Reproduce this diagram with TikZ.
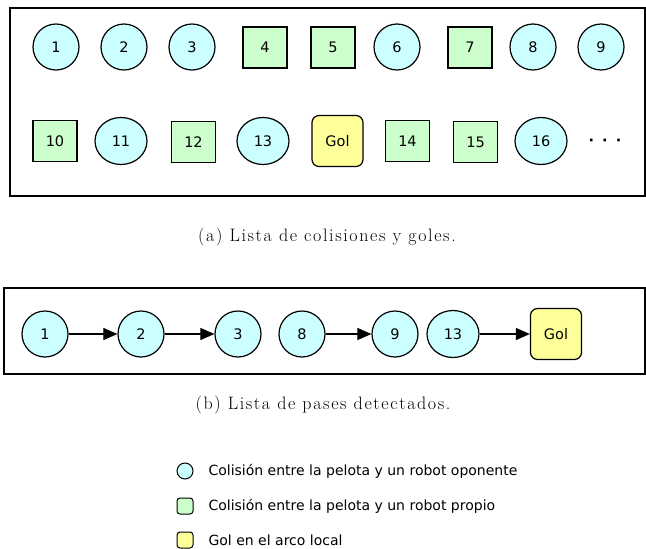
\documentclass[tikz,border=0pt]{standalone}
\usepackage{fontspec}
\usepackage{tikz}
\usetikzlibrary{arrows.meta,shapes.geometric}

\newfontfamily\nodefont{DejaVu Sans}
\newfontfamily\piefont[LetterSpace=9]{Latin Modern Roman}
\definecolor{celeste}{HTML}{CCFFFF}
\definecolor{verde}{HTML}{CCFFCC}
\definecolor{amarillo}{HTML}{FFFF99}

\begin{document}
\begin{tikzpicture}[x=1pt,y=-1pt,
  every node/.style={font=\nodefont\fontsize{14.5}{17}\selectfont},
  opo/.style={draw,circle,fill=celeste,line width=1.2pt,minimum size=46pt,inner sep=0pt},
  opoe/.style={draw,ellipse,fill=celeste,line width=1.2pt,minimum width=52pt,minimum height=47pt,inner sep=0pt},
  pro/.style={draw,rectangle,fill=verde,line width=1.2pt,minimum width=44pt,minimum height=41pt,inner sep=0pt},
  gol/.style={draw,rectangle,rounded corners=7pt,fill=amarillo,line width=1.2pt,minimum size=51pt,inner sep=0pt},
  caja/.style={draw,line width=1.4pt},
  pie/.style={font=\piefont\fontsize{18}{21}\selectfont},
  ref/.style={font=\nodefont\fontsize{14}{16}\selectfont,anchor=west},
  pase/.style={-{Triangle[length=14pt,width=12pt]},line width=1.1pt}]
\useasboundingbox (0,0) rectangle (646,549);

% (a) colisiones y goles
\draw[caja] (10,8) rectangle (645,196);
\node[opo] (a1) at (56,47) {1};
\node[opo] (a2) at (124,47) {2};
\node[opo] (a3) at (192,47) {3};
\node[pro] (a4) at (265,47.5) {4};
\node[pro] (a5) at (333,47.5) {5};
\node[opo] (a6) at (397,47) {6};
\node[pro] (a7) at (470,47.5) {7};
\node[opo] (a8) at (533,47) {8};
\node[opo] (a9) at (601,47) {9};

\node[pro] (a10) at (55,141) {10};
\node[opoe] (a11) at (121,141) {11};
\node[pro] (a12) at (193.5,142) {12};
\node[opoe] (a13) at (263,141) {13};
\node[gol] (agol) at (337.5,141) {Gol};
\node[pro] (a14) at (407.5,141) {14};
\node[pro] (a15) at (475.5,142) {15};
\node[opoe] (a16) at (541,141) {16};
\node (adots) at (605,142) {\textbf{·\hspace{8pt}·\hspace{8pt}·}};

\node[pie] (capa) at (327,237) {(a) Lista de colisiones y goles.};

% (b) pases detectados
\draw[caja] (4,288) rectangle (645,374);
\node[opo] (b1) at (45,334) {1};
\node[opo] (b2) at (141,334) {2};
\node[opo] (b3) at (238,334) {3};
\node[opo] (b8) at (302,334) {8};
\node[opo] (b9) at (395,334) {9};
\node[opoe] (b13) at (453,334) {13};
\node[gol] (bgol) at (556,334) {Gol};

\draw[pase] (b1) -- (b2);
\draw[pase] (b2) -- (b3);
\draw[pase] (b8) -- (b9);
\draw[pase] (b13) -- (bgol);

\node[pie] (capb) at (323,405) {(b) Lista de pases detectados.};

% referencias
\node[opo,minimum size=16pt,line width=1pt] (lopo) at (185,471) {};
\node[pro,minimum width=16pt,minimum height=16pt,rounded corners=3pt,line width=1pt] (lpro) at (185,506) {};
\node[gol,minimum size=16pt,rounded corners=3pt,line width=1pt] (lgol) at (185,540) {};
\node[ref] (topo) at (205,471) {Colisión entre la pelota y un robot oponente};
\node[ref] (tpro) at (205,506) {Colisión entre la pelota y un robot propio};
\node[ref] (tgol) at (205,540) {Gol en el arco local};
\end{tikzpicture}
\end{document}
